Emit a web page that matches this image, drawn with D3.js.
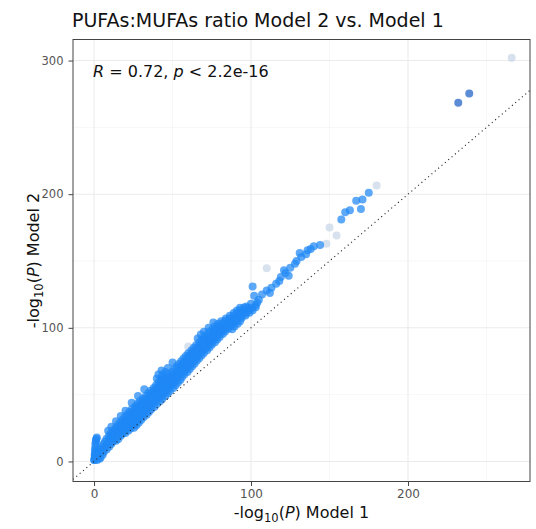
<!DOCTYPE html>
<html>
<head>
<meta charset="utf-8">
<script src="https://cdn.jsdelivr.net/npm/d3@7"></script>
<style>
  html, body { margin: 0; padding: 0; background: #fff; }
  svg { display: block; }
  text { font-family: "DejaVu Sans", sans-serif; }
</style>
</head>
<body>
<svg id="chart" width="536" height="529"></svg>
<script>
// ---- data: [-log10(P) Model 1, -log10(P) Model 2] ----
const spikePoints = [[0.3,1],[0.5,3],[0.4,5],[0.8,7],[0.5,9],[1,11],[0.8,13],[1.2,15],[1.5,17],[1.8,18],[1.2,16]];
const bandLow = [
  [0,1],[2,1],[3.5,2],[0.5,3],[2.2,3.5],[4.2,3],[0.6,5],[3,5.5],[5.5,5],[1,7],[3.6,7.2],[6.2,7],
  [3,9],[5.6,9.3],[8,9],[4.5,11],[7.1,11.2],[9.6,11],[6,13],[8.4,13.3],[11,13],
  [7,15],[9.5,15.2],[12,15],[14,15.4],[8,17],[10.6,17.3],[13,17],[15.5,16.8],
  [9.5,19],[12,19.3],[14.6,19],[17,19.2],[10.5,21],[13,21.2],[15.5,21],[18,20.8],[20,21.3],
  [12,23],[14.5,23.3],[17,23],[19.5,22.8],[22,23.2],[13.5,25],[16,25.4],[18.5,25],[21,25.2],[23.5,24.8],[25.5,25.3],
  [15,27],[17.5,27.2],[20,27],[22.5,26.8],[25,27.3],[27,27],[16.5,29],[19,29.3],[21.5,29],[24,28.8],[26.5,29.2],[28.5,29],
  [18,31],[20.5,31.2],[23,31],[25.5,30.8],[28,31.3],[30,31],[19.5,33],[22,33.3],[24.5,33],[27,32.8],[29.5,33.2],[31.5,33],
  [21,35],[23.5,35.2],[26,35],[28.5,34.8],[31,35.3],[33.5,35],[22.5,37],[25,37.3],[27.5,37],[30,36.8],[32.5,37.2],[35,37],
  [24,39],[26.5,39.2],[29,39],[31.5,38.8],[34,39.3],[36.5,39],
  [9,23],[11,26],[14,30],[17,34],[20,38]
];
const bandMid = [
  [26,41],[28.5,41.3],[31,41],[33.5,40.8],[36,41.2],[38.5,41],[27.5,43],[30,43.2],[32.5,43],[35,42.8],[37.5,43.3],[40,43],
  [29,45],[31.5,45.3],[34,45],[36.5,44.8],[39,45.2],[42,45],[31,47],[33.5,47.2],[36,47],[38.5,46.8],[41,47.3],[43.5,47],
  [33,49],[35.5,49.3],[38,49],[40.5,48.8],[43,49.2],[45.5,49],[34.5,51],[37,51.2],[39.5,51],[42,50.8],[44.5,51.3],[47,51],
  [36,53],[38.5,53.3],[41,53],[43.5,52.8],[46,53.2],[48.5,53],[38,55],[40.5,55.2],[43,55],[45.5,54.8],[48,55.3],[50.5,55],
  [39.5,57],[42,57.3],[44.5,57],[47,56.8],[49.5,57.2],[52,57],[41,59],[43.5,59.2],[46,59],[48.5,58.8],[51,59.3],[53.5,59],
  [42.5,61],[45,61.3],[47.5,61],[50,60.8],[52.5,61.2],[55,61],[43,63],[46,63.2],[48.5,63],[51,62.8],[53.5,63.3],[56,63],
  [44,65],[47.5,65.3],[50,65],[52.5,64.8],[55,65.2],[57.5,65],[45.5,67],[50,67.2],[52.5,67],[55,66.8],[57.5,67.3],[59.5,67],
  [51,69],[53.5,69.3],[56,69],[58.5,68.8],[61,69.2],[52.5,71],[55,71.2],[57.5,71],[60,70.8],[62.5,71.3],
  [54,73],[56.5,73.3],[59,73],[61.5,72.8],[64,73.2],[55.5,75],[58,75.2],[60.5,75],[63,74.8],[65.5,75.3],
  [24,44],[28,49],[32,54],[40,62],[41,65],[43,68],[47,70],[50,74]
];
const bandHigh = [
  [57,77],[59.5,77.3],[62,77],[64.5,76.8],[67,77.2],[58.5,79],[61,79.2],[63.5,79],[66,78.8],[68.5,79.3],
  [60,81],[62.5,81.3],[65,81],[67.5,80.8],[70,81.2],[62,83],[64.5,83.2],[67,83],[69.5,82.8],[72,83.3],
  [63.5,85],[66,85.3],[68.5,85],[71,84.8],[73.5,85.2],[65,87],[67.5,87.2],[70,87],[72.5,86.8],[75,87.3],
  [67,89],[69.5,89.3],[72,89],[74.5,88.8],[77,89.2],[68.5,91],[71,91.2],[73.5,91],[76,90.8],[78.5,91.3],
  [70,93],[72.5,93.3],[75,93],[77.5,92.8],[80,93.2],[72,95],[74.5,95.2],[77,95],[79.5,94.8],[82,95.3],
  [73.5,97],[76,97.3],[78.5,97],[81,96.8],[83.5,97.2],[75.5,99],[78,99.2],[80.5,99],[83,98.8],[85.5,99.3],[88,99],
  [77,101],[79.5,101.3],[82,101],[84.5,100.8],[87,101.2],[89.5,101],[79,103],[81.5,103.2],[84,103],[86.5,102.8],[89,103.3],[91.5,103],
  [81,105],[83.5,105.3],[86,105],[88.5,104.8],[91,105.2],[93,105],[84,107],[86.5,107.2],[89,107],[91.5,106.8],[94,107.3],
  [86.5,109],[89,109.3],[91.5,109],[94,108.8],[96.5,109.2],[89,111],[91.5,111.2],[94,111],[96.5,110.8],[99,111.3],
  [91,113],[93.5,113.3],[96,113],[98.5,112.8],[101,113.2],[93,115],[95.5,115.2],[98,115],[100.5,114.8],[103,115.3],
  [66,92],[68,95],[70,97],[73,100],[76,104]
];
const upperPoints = [
  [97,116],[100,118],[103,117],[105,121],[102,124],[107,125],[104,119],
  [110,128],[113,130],[116,133],[112,126],[118,135],[101,131],
  [119,138],[122,141],[125,145],[121,143],[128,148],[124,139],
  [129,150],[132,153],[135,155],[131,156],[138,159],[140,161],[136,158],[144,162],
  [157.5,181],[160,186.5],[163,188],[167,195],[170,189],[171,196],[175,201]
];
const faintPoints = [[110,144.5],[148,163],[154.5,169],[180,206.5],[266,302],[60,86],[150,175]];
const topPoints = [[232,268.5],[239,275.3]];

const xTicks = [0, 100, 200];
const yTicks = [0, 100, 200, 300];
const xMinor = [50, 150, 250];
const yMinor = [50, 150, 250];

// ---- layout ----
const svg = d3.select("#chart");
const panel = { left: 73, right: 530, top: 39.5, bottom: 481.5 };

const x = d3.scaleLinear().domain([-13.4, 277.7]).range([panel.left, panel.right]);
const y = d3.scaleLinear().domain([-15, 315.75]).range([panel.bottom, panel.top]);

svg.append("rect").attr("width", 536).attr("height", 529).attr("fill", "#fff");

svg.append("defs").append("clipPath").attr("id", "clip")
  .append("rect").attr("x", panel.left).attr("y", panel.top)
  .attr("width", panel.right - panel.left).attr("height", panel.bottom - panel.top);

const g = svg.append("g").attr("clip-path", "url(#clip)");

// grid
g.selectAll(".xminor").data(xMinor).join("line")
  .attr("x1", d => x(d)).attr("x2", d => x(d)).attr("y1", panel.top).attr("y2", panel.bottom)
  .attr("stroke", "#f2f2f2").attr("stroke-width", 0.6);
g.selectAll(".yminor").data(yMinor).join("line")
  .attr("y1", d => y(d)).attr("y2", d => y(d)).attr("x1", panel.left).attr("x2", panel.right)
  .attr("stroke", "#f2f2f2").attr("stroke-width", 0.6);
g.selectAll(".xmajor").data(xTicks).join("line")
  .attr("x1", d => x(d)).attr("x2", d => x(d)).attr("y1", panel.top).attr("y2", panel.bottom)
  .attr("stroke", "#ebebeb").attr("stroke-width", 1.1);
g.selectAll(".ymajor").data(yTicks).join("line")
  .attr("y1", d => y(d)).attr("y2", d => y(d)).attr("x1", panel.left).attr("x2", panel.right)
  .attr("stroke", "#ebebeb").attr("stroke-width", 1.1);

// points
const mainPts = [].concat(spikePoints, bandLow, bandMid, bandHigh, upperPoints);
const R = 4;
g.selectAll(".faint").data(faintPoints).join("circle")
  .attr("cx", d => x(d[0])).attr("cy", d => y(d[1])).attr("r", R)
  .attr("fill", "#a9bedb").attr("fill-opacity", 0.45);
g.selectAll(".main").data(mainPts).join("circle")
  .attr("cx", d => x(d[0])).attr("cy", d => y(d[1])).attr("r", R)
  .attr("fill", "#1E88F5").attr("fill-opacity", 0.72);
g.selectAll(".top").data(topPoints).join("circle")
  .attr("cx", d => x(d[0])).attr("cy", d => y(d[1])).attr("r", R)
  .attr("fill", "#4a7fd2").attr("fill-opacity", 0.9);

// y = x dotted reference line
g.append("line")
  .attr("x1", x(-13.4)).attr("y1", y(-13.4)).attr("x2", x(300)).attr("y2", y(300))
  .attr("stroke", "#222").attr("stroke-width", 1.1)
  .attr("stroke-dasharray", "1.1,3.3");

// panel border
svg.append("rect").attr("x", panel.left).attr("y", panel.top)
  .attr("width", panel.right - panel.left).attr("height", panel.bottom - panel.top)
  .attr("fill", "none").attr("stroke", "#444").attr("stroke-width", 1);

// axes
const xAxis = d3.axisBottom(x).tickValues(xTicks).tickSize(4.5).tickPadding(3);
const yAxis = d3.axisLeft(y).tickValues(yTicks).tickSize(4.5).tickPadding(5);

const gx = svg.append("g").attr("transform", `translate(0,${panel.bottom})`).call(xAxis);
const gy = svg.append("g").attr("transform", `translate(${panel.left},0)`).call(yAxis);
[gx, gy].forEach(a => {
  a.select(".domain").remove();
  a.selectAll(".tick line").attr("stroke", "#444");
  a.selectAll(".tick text").attr("fill", "#555")
    .attr("font-family", "DejaVu Sans, sans-serif");
});
gx.selectAll(".tick text").attr("font-size", 12);
gy.selectAll(".tick text").attr("font-size", 11.5);

// title
svg.append("text").attr("x", 72).attr("y", 27.3)
  .attr("font-size", 19).attr("fill", "#111")
  .text("PUFAs:MUFAs ratio Model 2 vs. Model 1");

// axis titles
function axisTitle(sel, label, sub) {
  sel.append("tspan").text("-log");
  sel.append("tspan").attr("font-size", sub).attr("dy", 4).text("10");
  sel.append("tspan").attr("dy", -4).text("(");
  sel.append("tspan").attr("font-style", "italic").text("P");
  sel.append("tspan").text(") " + label);
}
const xt = svg.append("text").attr("x", (panel.left + panel.right) / 2).attr("y", 518)
  .attr("text-anchor", "middle").attr("font-size", 16).attr("fill", "#111");
axisTitle(xt, "Model 1", 11.5);
const yt = svg.append("text")
  .attr("transform", `translate(38.5,${(panel.top + panel.bottom) / 2}) rotate(-90)`)
  .attr("text-anchor", "middle").attr("font-size", 16).attr("fill", "#111");
axisTitle(yt, "Model 2", 11.5);

// correlation annotation
const ann = svg.append("text").attr("x", 93).attr("y", 77.3)
  .attr("font-size", 16).attr("fill", "#111");
ann.append("tspan").attr("font-style", "italic").text("R");
ann.append("tspan").text(" = 0.72, ");
ann.append("tspan").attr("font-style", "italic").text("p");
ann.append("tspan").text(" < 2.2e-16");
</script>
</body>
</html>
